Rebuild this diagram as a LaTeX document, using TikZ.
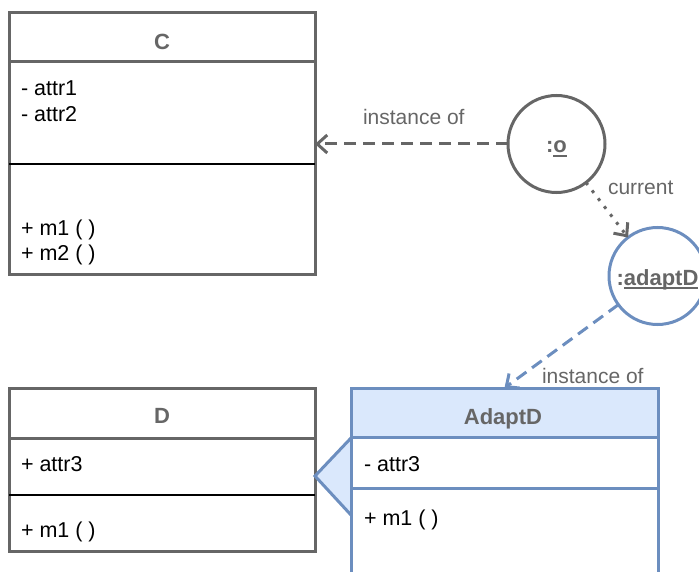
\documentclass[tikz,border=0pt]{standalone}
\usepackage{fontspec}
\setmainfont{Liberation Sans}
\usetikzlibrary{arrows.meta}
\definecolor{gr}{HTML}{666666}
\definecolor{bl}{HTML}{6C8EBF}
\definecolor{lb}{HTML}{DAE8FC}
\newcommand\ulx[1]{\setbox0\hbox{#1}\rlap{\rule[-4pt]{\wd0}{1.6pt}}\box0}
\begin{document}
\begin{tikzpicture}[x=1pt,y=-1pt,
  txt/.style={font={\fontsize{21}{25}\selectfont}, inner sep=0pt, outer sep=0pt},
  ttl/.style={txt, font={\fontsize{22}{26}\selectfont\bfseries}, text=gr, anchor=base},
  itm/.style={txt, font={\fontsize{21.5}{25}\selectfont}, anchor=base west, text=black},
  lbl/.style={txt, text=gr, anchor=base west},
  graybox/.style={draw=gr, line width=3pt, inner sep=0pt, outer sep=0pt},
  bluebox/.style={draw=bl, line width=3pt, inner sep=0pt, outer sep=0pt},
  obj/.style={circle, line width=3pt, minimum size=97pt, inner sep=0pt, outer sep=0pt,
    font={\fontsize{22}{26}\selectfont\bfseries}, text=gr, text height=18pt, text depth=0pt},
  conn/.style={line width=3pt, -{Straight Barb[length=10pt,width=18pt]}},
  dashy/.style={dash pattern=on 12pt off 7pt},
  dotty/.style={dash pattern=on 3pt off 7pt},
]
\useasboundingbox (0,0) rectangle (699,572);
\clip (0,0) rectangle (699,572);

% class C
\node[graybox, minimum width=306pt, minimum height=262pt] (C) at (162,144) {};
\draw[gr, line width=3pt] (9,62) -- (315,62);
\draw[black, line width=1.5pt] (9,164) -- (315,164);
\node[ttl] (Ct) at (162,50) {C};
\node[itm] (Ca1) at (21,96) {- attr1};
\node[itm] (Ca2) at (21,122) {- attr2};
\node[itm] (Cm1) at (21,236) {+ m1 ( )};
\node[itm] (Cm2) at (21,261) {+ m2 ( )};

% class D
\node[graybox, minimum width=306pt, minimum height=163pt] (D) at (162,469.5) {};
\draw[gr, line width=3pt] (9,438) -- (315,438);
\draw[black, line width=1.5pt] (9,495) -- (315,495);
\node[ttl] (Dt) at (162,423.5) {D};
\node[itm] (Da1) at (21,471) {+ attr3};
\node[itm] (Dm1) at (21,537) {+ m1 ( )};

% class AdaptD
\fill[lb] (351,388) rectangle (658,437);
\draw[bl, fill=lb, line width=3pt] (351,438) -- (315,476) -- (351,515);
\node[bluebox, minimum width=307pt, minimum height=232pt] (A) at (504.5,504) {};
\draw[bl, line width=3pt] (351,437) -- (658,437);
\draw[bl, line width=3pt] (351,488) -- (658,488);
\node[ttl] (At) at (503,424) {AdaptD};
\node[itm] (Aa1) at (364,471) {- attr3};
\node[itm] (Am1) at (364,525) {+ m1 ( )};

% objects
\node[obj, draw=gr] (o) at (556.5,144) {:\ulx{o}};
\node[obj, draw=bl] (ad) at (657.5,276) {:\ulx{adaptD}};

% connectors
\draw[conn, gr, dashy] (o.west) -- (C.east);
\node[lbl] (l1) at (363,125) {instance of};
\draw[conn, gr, dotty] (o) -- (ad);
\node[lbl] (l2) at (608,195) {current};
\draw[conn, bl, dashy] (ad) -- (A.north);
\node[lbl] (l3) at (542,383) {instance of};
\end{tikzpicture}
\end{document}
